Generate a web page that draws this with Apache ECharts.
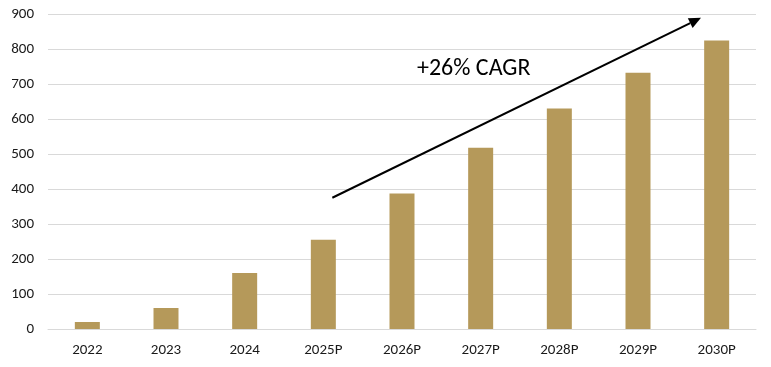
<!DOCTYPE html>
<html><head><meta charset="utf-8">
<script src="https://cdn.jsdelivr.net/npm/echarts@6/dist/echarts.min.js"></script>
<style>html,body{margin:0;padding:0;background:#fff}#c{width:771px;height:367px}</style>
</head><body><div id="c"></div>
<script>
const categories = ['2022','2023','2024','2025P','2026P','2027P','2028P','2029P','2030P'];
const values = [20, 60, 160, 255, 387, 518, 630, 732, 824];
const yTicks = { min: 0, max: 900, interval: 100 };
const annotationText = '+26% CAGR';

const chart = echarts.init(document.getElementById('c'), null, {renderer:'canvas'});
const font = 'Carlito, Calibri, Lato, "Open Sans", "Liberation Sans", sans-serif';
chart.setOption({
  animation: false,
  grid: { left: 48, right: 15, top: 14, bottom: 38, containLabel: false },
  xAxis: {
    type: 'category', data: categories,
    axisLine: { show: true, lineStyle: { color: '#d9d9d9', width: 1 } },
    axisTick: { show: false },
    axisLabel: { color: '#1a1a1a', fontSize: 15, fontFamily: font, margin: 14 }
  },
  yAxis: {
    type: 'value', min: yTicks.min, max: yTicks.max, interval: yTicks.interval,
    axisLine: { show: false }, axisTick: { show: false },
    splitLine: { lineStyle: { color: '#d9d9d9', width: 1 } },
    axisLabel: { color: '#1a1a1a', fontSize: 15, fontFamily: font, margin: 14 }
  },
  series: [{
    type: 'bar', data: values, barWidth: 25,
    itemStyle: { color: '#b5995a' }
  }]
});

function drawAnnotation(){
  const p0 = chart.convertToPixel({gridIndex:0}, [3, 375]);
  const p1 = chart.convertToPixel({gridIndex:0}, [7, 889]);
  const x0 = p0[0] + 9, y0 = p0[1];
  const x1 = p1[0] + 63, y1 = p1[1];
  const ang = Math.atan2(y1 - y0, x1 - x0);
  const L = 12, W = 5.5;
  const bx = x1 - L*Math.cos(ang), by = y1 - L*Math.sin(ang);
  const nx = -Math.sin(ang), ny = Math.cos(ang);
  chart.setOption({
    graphic: [
      { type: 'line', shape: { x1: x0, y1: y0, x2: bx, y2: by }, style: { stroke: '#000', lineWidth: 2 } },
      { type: 'polygon', shape: { points: [[x1,y1],[bx+nx*W,by+ny*W],[bx-nx*W,by-ny*W]] }, style: { fill: '#000' } },
      { type: 'text', left: 417, top: 57, style: { text: annotationText, fill: '#000', font: '24px ' + font } }
    ]
  });
}
drawAnnotation();
</script></body></html>
